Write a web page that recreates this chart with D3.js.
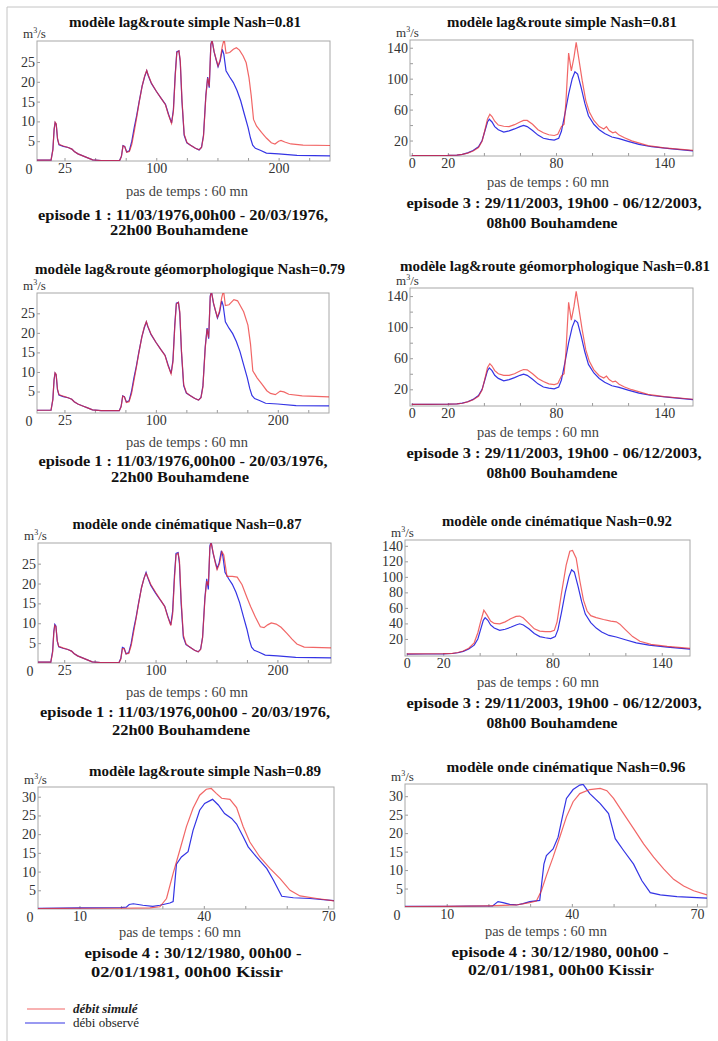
<!DOCTYPE html>
<html>
<head>
<meta charset="utf-8">
<script src="https://cdn.jsdelivr.net/npm/d3@7"></script>
<style>
  body { margin: 0; background: #fff; }
  text { font-family: "Liberation Serif", "DejaVu Serif", serif; }
</style>
</head>
<body>
<script>
// ---- episode 1 : Bouhamdene 1976 (pas de temps, m3/s) ----
var ep1Obs = [[0,0.2],[14,0.2],[15.5,3],[16.5,8],[17.3,9.7],[18.2,9.3],[19.3,5.5],[20.5,4.1],[24,3.7],[28,3.4],[31,3.0],[33,2.4],[36,1.8],[40,1.3],[44,0.8],[48,0.3],[55,0.1],[70,0.1],[71.5,1.2],[72.8,3.9],[74.2,3.7],[75.8,2.3],[78,2.6],[80,5],[82,8.5],[84,11.5],[86,15],[88.5,19],[90.5,21.3],[92.2,22.8],[93.4,21.6],[96,19.6],[100,17.6],[104,15.8],[107.5,14.3],[110,11.8],[112.5,9.6],[114,13],[115.5,22],[116.8,27.6],[118.5,27.8],[119.6,25],[121,15],[122.8,6.5],[125,4.6],[128,4],[132,3.2],[135,2.8],[137,3.5],[138.6,6.5],[140.5,16.5],[142,21.2],[143.3,18.5],[144.6,29.5],[145.6,30.5],[147.3,27.5],[149,25.5],[150.5,23.8],[152.2,25.2],[154,28.2],[155.2,27],[157,22.8],[160,21.2],[163,19.8],[166,17.8],[169,15.2],[172,11.8],[175,8.5],[177,5.8],[178.8,4],[181,3.2],[185,2.7],[190,2.0],[200,1.8],[215,1.4],[244,1.3]];
var ep1SimLag = [[0,0.2],[14,0.2],[15.5,2.8],[16.5,8],[17.3,9.8],[18.2,9.4],[19.3,5.6],[20.5,4.2],[24,3.8],[28,3.4],[31,3.0],[33,2.4],[36,1.8],[40,1.3],[44,0.8],[48,0.3],[55,0.1],[70,0.1],[71.5,1.1],[72.8,3.8],[74.2,3.6],[75.8,2.2],[78,2.4],[80,4.2],[82,7.5],[84,11],[86,14.8],[88.5,19],[90.5,21.5],[92.2,22.9],[93.4,21.7],[96,19.7],[100,17.6],[104,15.8],[107.5,14.2],[110,11.6],[112.5,9.5],[114,12.5],[115.5,21.5],[116.8,27.4],[118.5,27.8],[119.6,25.5],[121,15.5],[122.8,6.8],[125,4.7],[128,4],[132,3.2],[135,2.8],[137,3.4],[138.6,6.2],[140.5,16.2],[142,21],[143.3,18.8],[144.6,29.2],[145.6,30.5],[147.3,27.6],[149,25.6],[150.5,24],[152.2,25.6],[154,29],[155.5,30.8],[157,27.2],[160,27.4],[163,28.2],[165.5,28.6],[168,28],[171,26.5],[173.5,24.8],[175.8,21],[177.6,16.5],[179.5,10.5],[182,8.8],[186,7.2],[190,5.8],[194,4.6],[197,4.3],[200,5],[202,5.2],[205,4.8],[210,4.3],[220,4.0],[244,3.9]];
var ep1SimGeo = [[0,0.2],[14,0.2],[15.5,2.9],[16.5,8],[17.3,9.8],[18.2,9.4],[19.3,5.6],[20.5,4.2],[24,3.8],[28,3.4],[31,3.0],[33,2.4],[36,1.8],[40,1.3],[44,0.8],[48,0.3],[55,0.1],[70,0.1],[71.5,1.1],[72.8,3.8],[74.2,3.6],[75.8,2.2],[78,2.4],[80,4.4],[82,7.8],[84,11.2],[86,14.8],[88.5,19],[90.5,21.5],[92.2,22.9],[93.4,21.7],[96,19.7],[100,17.6],[104,15.8],[107.5,14.2],[110,11.6],[112.5,9.5],[114,12.5],[115.5,21.5],[116.8,27.4],[118.5,27.8],[119.6,25.5],[121,15.5],[122.8,6.8],[125,4.7],[128,4],[132,3.2],[135,2.8],[137,3.4],[138.6,6.2],[140.5,16.2],[142,21],[143.3,18.8],[144.6,29.2],[145.6,30.5],[147.3,27.6],[149,25.6],[150.5,24],[152.2,25.6],[154,29],[155.5,30.8],[157,27],[160,27.2],[164,28.5],[167,28.2],[172,25.4],[175.5,22],[177.6,17.2],[179.5,10.3],[183,8.5],[187,6.9],[191,5.2],[194,4.5],[198,4.2],[202,5.1],[205,4.9],[209,4.3],[220,3.9],[244,3.6]];
var ep1SimOnde = [[0,0.2],[14,0.2],[15.5,2.6],[16.5,7.6],[17.3,9.5],[18.2,9.2],[19.3,5.6],[20.5,4.2],[24,3.8],[28,3.4],[31,3.0],[33,2.4],[36,1.8],[40,1.3],[44,0.8],[48,0.3],[55,0.1],[70,0.1],[71.5,1.0],[72.8,3.6],[74.2,3.6],[75.8,2.3],[78,2.4],[80,4.4],[82,7.8],[84,11.2],[86,14.8],[88.5,19],[90.5,21.3],[92.2,22.6],[93.4,21.8],[96,19.8],[100,17.8],[104,15.9],[107.5,14.2],[110,11.6],[112.5,9.4],[114,12.2],[115.5,21],[116.8,27.2],[118.5,27.6],[119.6,25.8],[121,16],[122.8,7],[125,4.8],[128,4],[132,3.2],[135,2.8],[137,3.4],[138.6,6.4],[140.5,16],[142,20.6],[143.3,19.5],[144.6,29],[145.6,30.3],[147.3,27.8],[149,25.2],[150.5,23.5],[152.5,25],[154.5,28],[156,27.2],[158.6,21.8],[163,21.8],[167,21.6],[171,19.7],[175,16.5],[178,14.2],[182,11.5],[186,9.1],[189,8.9],[192,9.6],[195,10.1],[199,9.8],[203,9],[208,7.4],[212,6],[216,4.8],[222,4.0],[244,3.8]];

// ---- episode 3 : Bouhamdene 2003 ----
var ep3Obs = [[0,0.5],[10,0.6],[20,0.8],[25,1.2],[28,2.2],[31,4],[34,7],[37,12],[39,20],[40.5,32],[42,44],[43,47.5],[44.5,44],[46,38],[48,34],[51,31],[54,32.5],[57,35],[60,38],[62,39.5],[64,38],[67,33],[70,27],[73,23],[76,21.5],[79,20.5],[81.5,23],[83,32],[85,55],[87,80],[89,100],[90.5,109],[92,106],[94,88],[96,68],[98,52],[101,41],[104,34],[107,29],[111,24.5],[115,22.5],[120,19],[126,15],[133,12],[143,9.5],[157,6.5]];
var ep3SimLag = [[0,0.5],[20,0.8],[25,1.2],[28,2],[31,3.8],[34,6.5],[37,11],[39,19],[40.5,33],[42,48],[43.3,54],[44.5,51],[46,45],[48,40],[51,38.5],[54,38],[57,40.5],[60,44],[62,46],[64,46],[67,41],[70,34],[73,30],[76,27.5],[79,26.5],[81,28],[83,38],[84.5,41],[85.5,70],[87,133],[88.5,110],[90,128],[91.2,147],[92.5,128],[94.5,98],[96.5,72],[98.5,57],[101,46],[104,38],[106.5,35],[108,38],[109.5,33],[111.5,30],[113,31],[115,27],[118,23.5],[122,19.5],[131,13.5],[140,10.5],[157,7]];
var ep3SimGeo = [[0,0.5],[20,0.8],[25,1.2],[28,2],[31,3.8],[34,6.5],[37,11],[39,19],[40.5,33],[42,48],[43.3,53],[44.5,50],[46,44],[48,40],[51,38],[54,38],[57,40],[60,43.5],[62,45.5],[64,45],[67,40],[70,34],[73,30],[76,27],[79,26],[81,27.5],[83,37],[84.5,40],[85.5,68],[87,132],[88.5,109],[90,127],[91.2,146],[92.5,127],[94.5,97],[96.5,71],[98.5,56],[101,45],[104,37.5],[106.5,34.5],[108,37],[109.5,32.5],[111.5,29.5],[113,30.5],[115,26.5],[118,23],[122,19.5],[131,13.5],[140,10.5],[157,7]];
var ep3SimOnde = [[0,0.8],[20,1],[25,1.5],[28,2.5],[31,4.5],[34,8],[37,15],[39,28],[40.5,42],[42.3,57],[44,51],[46,43],[48,40],[51,39.5],[54,42],[57,46],[60,49],[62,49.5],[64,47],[67,40],[70,33],[73,30],[76,29.5],[79,29.5],[81,31],[82.5,42],[85,80],[87.5,115],[89.5,133],[91,134],[93,124],[95,95],[97,70],[99,56],[101,50],[104,47.5],[108,45],[112,43],[115,42],[117,39],[120,32],[124,23],[128,17],[134,13],[143,10.5],[157,7.5]];

// ---- episode 4 : Kissir 1980 ----
var ep4ObsLag = [[0,0.2],[10,0.3],[20,0.4],[21.3,0.5],[22,1.2],[23,1.4],[25.3,1.0],[27.7,0.7],[29.4,1.0],[31.8,1.6],[32.6,2.0],[33.4,12],[34.6,13.9],[36.2,15.3],[37.4,21],[39,26.4],[40.2,28.2],[42.1,29.3],[43.5,27.8],[45,25.5],[46.7,24.2],[47.9,22.7],[49.5,19.3],[50.7,16.6],[52.7,13.9],[55.2,10.8],[56.8,7.7],[58.8,3.4],[61.6,3.0],[65.6,2.8],[72,2.2]];
var ep4SimLag = [[0,0.1],[10,0.2],[20,0.2],[27,0.3],[29.4,0.6],[31,2.8],[32.6,9.5],[34.2,15.7],[35.8,22],[37.4,26.9],[39,30.4],[40.6,32],[41.8,32.2],[43,30.9],[44.3,29.6],[46.3,29.3],[47.9,27.1],[49.5,22],[51.1,17.9],[53.5,13.9],[56,10.8],[58.4,8.1],[60.8,5],[63.2,3.5],[67.3,2.8],[72,2.1]];
var ep4ObsOnde = [[0,0.2],[10,0.2],[21,0.3],[22.3,1.45],[23.5,1.2],[25.1,0.7],[26.7,0.55],[28.3,0.9],[29.9,1.45],[32.3,1.8],[33.3,11.6],[33.9,13.9],[35.5,15.7],[36.7,18.9],[37.9,25.3],[38.7,29.4],[40.3,31.8],[41.9,33],[42.7,33.2],[44.3,30.7],[46.8,28],[48.8,25.3],[50.4,18.5],[52.4,15.3],[54.8,11.6],[56.8,7.1],[58.8,3.9],[61.2,3.3],[65.2,2.8],[72.4,2.4]];
var ep4SimOnde = [[0,0.1],[10,0.15],[20,0.3],[26.7,0.55],[29.9,1.2],[31.5,1.6],[32.7,4.4],[33.9,8.5],[35.5,13.5],[37.1,18.9],[38.7,24.4],[40.3,28.5],[41.9,30.7],[44.3,31.8],[46.8,32.1],[48.4,31.5],[50,29.4],[52.4,25.3],[54.8,21.2],[57.2,17.1],[59.6,13.5],[62,10.3],[64.4,7.5],[66.8,5.7],[69.2,4.4],[72.4,3.3]];

// ---- ticks and labels ----
var ep1XTicks = [25,50,75,100,125,150,175,200,225];
var ep1XLabels = [25,100,200];
var ep1YTicks = [5,10,15,20,25];
var ep3XTicks = [0,20,40,60,80,100,120,140];
var ep3XLabels = [0,20,80,140];
var ep3YTicks = [20,40,60,80,100,120,140];
var ep3YLabelsSparse = [20,60,100,140];
var ep4XTicks = [10,20,30,40,50,60,70];
var ep4XLabels = [10,40,70];
var ep4YTicks = [5,10,15,20,25,30];

var titles = [
  "modèle lag&route simple Nash=0.81",
  "modèle lag&route simple Nash=0.81",
  "modèle lag&route géomorphologique Nash=0.79",
  "modèle lag&route géomorphologique Nash=0.81",
  "modèle onde cinématique Nash=0.87",
  "modèle onde cinématique Nash=0.92",
  "modèle lag&route simple Nash=0.89",
  "modèle onde cinématique  Nash=0.96"
];
var ep1Text = ["episode 1 : 11/03/1976,00h00 - 20/03/1976,", "22h00 Bouhamdene"];
var ep3Text = ["episode 3 : 29/11/2003, 19h00 - 06/12/2003,", "08h00 Bouhamdene"];
var ep4Text = ["episode 4 : 30/12/1980, 00h00 -", "02/01/1981, 00h00 Kissir"];
var xTitle = "pas de temps : 60 mn";
var legendLabels = ["débit simulé", "débi observé"];

// ---- layout of the 8 panels ----
var panels = [
  {obs: ep1Obs, sim: ep1SimLag, l: 37, t: 41, r: 330, b: 161, xd: [2.5, 242], yd: [0, 30.3],
   xt: ep1XTicks, xl: ep1XLabels, yt: ep1YTicks, yl: ep1YTicks, zero: true,
   title: [185, 27, 232], pas: [187, 196], ep: ep1Text, epPos: [183, 220, 179, 235], epW: [290, 138]},
  {obs: ep3Obs, sim: ep3SimLag, l: 410, t: 40, r: 693, b: 156, xd: [-1, 156], yd: [0, 150],
   xt: ep3XTicks, xl: ep3XLabels, yt: ep3YTicks, yl: ep3YLabelsSparse, zero: false,
   title: [562, 27, 230], pas: [548, 187], ep: ep3Text, epPos: [554, 208, 552, 228], epW: [295, 131]},
  {obs: ep1Obs, sim: ep1SimGeo, l: 37, t: 293, r: 329, b: 413, xd: [2.5, 242], yd: [-0.5, 30.2],
   xt: ep1XTicks, xl: ep1XLabels, yt: ep1YTicks, yl: ep1YTicks, zero: true,
   title: [190, 274, 310], pas: [187, 447], ep: ep1Text, epPos: [183, 466, 180, 482], epW: [289, 138]},
  {obs: ep3Obs, sim: ep3SimGeo, l: 410, t: 288, r: 693, b: 406, xd: [-1, 156], yd: [-1.5, 150.4],
   xt: ep3XTicks, xl: ep3XLabels, yt: ep3YTicks, yl: ep3YLabelsSparse, zero: false,
   title: [555, 271, 310], pas: [538, 437], ep: ep3Text, epPos: [554, 458, 552, 478], epW: [295, 131]},
  {obs: ep1Obs, sim: ep1SimOnde, l: 38, t: 543, r: 331, b: 663, xd: [3.5, 244], yd: [0, 30.2],
   xt: ep1XTicks, xl: ep1XLabels, yt: ep1YTicks, yl: ep1YTicks, zero: true,
   title: [187, 529, 229], pas: [187, 697], ep: ep1Text, epPos: [185, 717, 181, 735], epW: [290, 138]},
  {obs: ep3Obs, sim: ep3SimOnde, l: 405, t: 540, r: 690, b: 656, xd: [-1, 155.5], yd: [-2, 147.5],
   xt: ep3XTicks, xl: ep3XLabels, yt: ep3YTicks, yl: ep3YTicks, zero: false,
   title: [557, 526, 230], pas: [538, 687], ep: ep3Text, epPos: [554, 708, 552, 728], epW: [295, 131]},
  {obs: ep4ObsLag, sim: ep4SimLag, l: 38, t: 787, r: 334, b: 909, xd: [0, 71.4], yd: [0, 32.6],
   xt: ep4XTicks, xl: ep4XLabels, yt: ep4YTicks, yl: ep4YTicks, zero: true,
   title: [205, 776, 232], pas: [180, 937], ep: ep4Text, epPos: [193, 958, 187, 977], epW: [217, 192]},
  {obs: ep4ObsOnde, sim: ep4SimOnde, l: 405, t: 784, r: 707, b: 907, xd: [0, 72.4], yd: [0, 33.3],
   xt: ep4XTicks, xl: ep4XLabels, yt: ep4YTicks, yl: ep4YTicks, zero: true,
   title: [566, 772, 239], pas: [546, 936], ep: ep4Text, epPos: [560, 957, 561, 975], epW: [217, 186]}
];

var red = "#ec2b2b", blue = "#3434e4";

var svg = d3.select("body").append("svg")
  .attr("width", 718)
  .attr("height", 1041);

svg.append("rect").attr("width", 718).attr("height", 1041).attr("fill", "#fff");

// page border (left and top)
svg.append("path")
  .attr("d", "M7,1041V7H718")
  .attr("fill", "none")
  .attr("stroke", "#c4c4c4");

panels.forEach(function(p, i) {
  var x = d3.scaleLinear().domain(p.xd).range([p.l, p.r]);
  var y = d3.scaleLinear().domain(p.yd).range([p.b, p.t]);
  var g = svg.append("g");

  g.append("clipPath").attr("id", "clip" + i)
    .append("rect")
    .attr("x", p.l).attr("y", p.t)
    .attr("width", p.r - p.l).attr("height", p.b - p.t);

  // axes
  var xAxis = d3.axisBottom(x)
    .tickValues(p.xt)
    .tickSize(-3)
    .tickPadding(2)
    .tickFormat(function(d) { return p.xl.indexOf(d) >= 0 ? d : ""; });
  var gx = g.append("g")
    .attr("transform", "translate(0," + p.b + ")")
    .call(xAxis);

  var yAxis = d3.axisLeft(y)
    .tickValues(p.yt)
    .tickSize(-3)
    .tickPadding(2)
    .tickFormat(function(d) { return p.yl.indexOf(d) >= 0 ? d : ""; });
  var gy = g.append("g")
    .attr("transform", "translate(" + p.l + ",0)")
    .call(yAxis);

  [gx, gy].forEach(function(a) {
    a.select(".domain").remove();
    a.selectAll(".tick line").attr("stroke", "#9a9a9a");
    a.selectAll(".tick text")
      .attr("fill", "#333")
      .style("font-size", "14px")
      .style("font-family", "'Liberation Serif', serif");
  });

  if (p.zero) {
    g.append("text")
      .attr("x", p.l - 8)
      .attr("y", p.b + 13)
      .attr("text-anchor", "middle")
      .attr("fill", "#333")
      .style("font-size", "14px")
      .text("0");
  }

  // frame
  g.append("rect")
    .attr("x", p.l).attr("y", p.t)
    .attr("width", p.r - p.l).attr("height", p.b - p.t)
    .attr("fill", "none")
    .attr("stroke", "#a8a8a8");

  var line = d3.line()
    .x(function(d) { return x(d[0]); })
    .y(function(d) { return y(d[1]); });

  var lines = g.append("g").attr("clip-path", "url(#clip" + i + ")");
  lines.append("path")
    .attr("d", line(p.obs))
    .attr("fill", "none")
    .attr("stroke", blue)
    .attr("stroke-width", 1.2);
  lines.append("path")
    .attr("d", line(p.sim))
    .attr("fill", "none")
    .attr("stroke", red)
    .attr("stroke-opacity", 0.72)
    .attr("stroke-width", 1.2);

  // unit label m3/s
  var u = g.append("text")
    .attr("x", p.l - 14)
    .attr("y", p.t - 3)
    .attr("fill", "#333")
    .style("font-size", "13px");
  u.append("tspan").text("m");
  u.append("tspan").attr("dy", -5).style("font-size", "8px").text("3");
  u.append("tspan").attr("dy", 5).text("/s");

  // title
  g.append("text")
    .attr("x", p.title[0])
    .attr("y", p.title[1])
    .attr("text-anchor", "middle")
    .attr("textLength", p.title[2])
    .attr("lengthAdjust", "spacingAndGlyphs")
    .style("font-size", "14px")
    .style("font-weight", "bold")
    .attr("fill", "#111")
    .text(titles[i]);

  // x title
  g.append("text")
    .attr("x", p.pas[0])
    .attr("y", p.pas[1])
    .attr("text-anchor", "middle")
    .attr("textLength", 122)
    .attr("lengthAdjust", "spacingAndGlyphs")
    .attr("fill", "#444")
    .style("font-size", "14px")
    .text(xTitle);

  // episode caption
  p.ep.forEach(function(s, k) {
    g.append("text")
      .attr("x", p.epPos[k * 2])
      .attr("y", p.epPos[k * 2 + 1])
      .attr("text-anchor", "middle")
      .attr("textLength", p.epW[k])
      .attr("lengthAdjust", "spacingAndGlyphs")
      .style("font-size", "14px")
      .style("font-weight", "bold")
      .attr("fill", "#111")
      .text(s);
  });
});

// legend
var legend = svg.append("g");
var legendColors = [red, blue];
var legendY = d3.scalePoint().domain(legendLabels).range([1009, 1023]);
legendLabels.forEach(function(s, k) {
  legend.append("line")
    .attr("x1", k === 0 ? 27 : 25).attr("x2", 65)
    .attr("y1", legendY(s)).attr("y2", legendY(s))
    .attr("stroke", legendColors[k])
    .attr("stroke-opacity", k === 0 ? 0.72 : 1)
    .attr("stroke-width", 1.2);
  legend.append("text")
    .attr("x", 73)
    .attr("y", legendY(s) + 4)
    .attr("fill", "#222")
    .style("font-size", "13px")
    .style("font-weight", k === 0 ? "bold" : "normal")
    .style("font-style", k === 0 ? "italic" : "normal")
    .text(s);
});
</script>
</body>
</html>
